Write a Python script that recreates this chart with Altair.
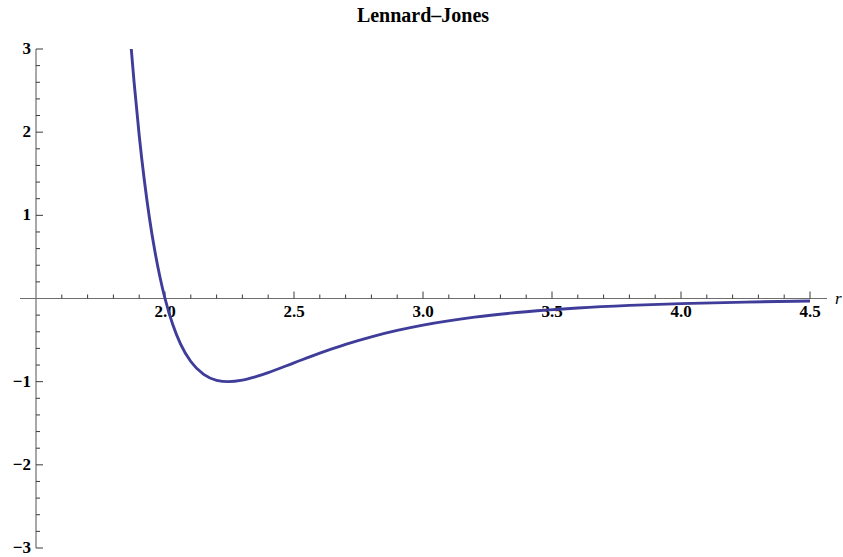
import altair as alt
import pandas as pd

# Curve values (r, V)
r_vals = [1.8693, 1.88, 1.90, 1.92, 1.94, 1.96, 1.98, 2.00, 2.03, 2.06, 2.10, 2.15,
          2.20, 2.245, 2.30, 2.35, 2.40, 2.50, 2.60, 2.70, 2.80, 2.90, 3.00, 3.20,
          3.40, 3.60, 3.80, 4.00, 4.25, 4.50]
v_vals = [3.0, 2.6065, 1.9610, 1.4182, 0.9629, 0.5819, 0.2641, 0.0, -0.3126, -0.5444,
          -0.7575, -0.9124, -0.9834, -1.0, -0.9817, -0.9424, -0.8910, -0.7737, -0.6570,
          -0.5516, -0.4607, -0.3841, -0.3203, -0.2242, -0.1589, -0.1142, -0.0832,
          -0.0615, -0.0430, -0.0306]

x_major = [2.0, 2.5, 3.0, 3.5, 4.0, 4.5]
x_major_labels = ["2.0", "2.5", "3.0", "3.5", "4.0", "4.5"]
x_minor = [1.6, 1.7, 1.8, 1.9, 2.1, 2.2, 2.3, 2.4, 2.6, 2.7, 2.8, 2.9,
           3.1, 3.2, 3.3, 3.4, 3.6, 3.7, 3.8, 3.9, 4.1, 4.2, 4.3, 4.4]
y_major = [-3, -2, -1, 1, 2, 3]
y_major_labels = ["\u22123", "\u22122", "\u22121", "1", "2", "3"]
y_minor = [-2.8, -2.6, -2.4, -2.2, -1.8, -1.6, -1.4, -1.2, -0.8, -0.6, -0.4, -0.2,
           0.2, 0.4, 0.6, 0.8, 1.2, 1.4, 1.6, 1.8, 2.2, 2.4, 2.6, 2.8]
x_range = [1.5, 4.5]
y_range = [-3, 3]
title_text = "Lennard\u2013Jones"
axis_label = "r"

curve_df = pd.DataFrame({"r": r_vals, "V": v_vals})
xmaj_df = pd.DataFrame({"x": x_major, "label": x_major_labels})
xmin_df = pd.DataFrame({"x": x_minor})
ymaj_df = pd.DataFrame({"y": y_major, "label": y_major_labels})
ymin_df = pd.DataFrame({"y": y_minor})
frame_df = pd.DataFrame({"x0": [x_range[0]], "x1": [x_range[1]],
                         "y0": [y_range[0]], "y1": [y_range[1]],
                         "t": [axis_label], "title": [title_text]})

XS = alt.Scale(domain=x_range, nice=False, zero=False)
YS = alt.Scale(domain=y_range, nice=False, zero=False)

AX = "#6e6e6e"
TK = "#3a3a3a"
FONT = "Liberation Serif"

# axis lines
x_axis_line = alt.Chart(frame_df).mark_rule(
    color=AX, strokeWidth=1.2, xOffset=-16, x2Offset=17
).transform_calculate(zero="0").encode(
    x=alt.X("x0:Q", scale=XS, axis=None), x2="x1:Q",
    y=alt.Y("zero:Q", scale=YS, axis=None))

y_axis_line = alt.Chart(frame_df).mark_rule(color=AX, strokeWidth=1.2).encode(
    x=alt.X("x0:Q", scale=XS, axis=None),
    y=alt.Y("y0:Q", scale=YS, axis=None), y2="y1:Q")

# ticks
x_major_ticks = alt.Chart(xmaj_df).mark_rule(color=TK, strokeWidth=1, y2Offset=-7
).transform_calculate(zero="0").encode(
    x=alt.X("x:Q", scale=XS, axis=None), y=alt.Y("zero:Q", scale=YS, axis=None), y2="zero:Q")
x_minor_ticks = alt.Chart(xmin_df).mark_rule(color=TK, strokeWidth=1, y2Offset=-4
).transform_calculate(zero="0").encode(
    x=alt.X("x:Q", scale=XS, axis=None), y=alt.Y("zero:Q", scale=YS, axis=None), y2="zero:Q")
y_major_ticks = alt.Chart(ymaj_df).mark_rule(color=TK, strokeWidth=1, x2Offset=7
).transform_calculate(left="1.5").encode(
    y=alt.Y("y:Q", scale=YS, axis=None), x=alt.X("left:Q", scale=XS, axis=None), x2="left:Q")
y_minor_ticks = alt.Chart(ymin_df).mark_rule(color=TK, strokeWidth=1, x2Offset=4
).transform_calculate(left="1.5").encode(
    y=alt.Y("y:Q", scale=YS, axis=None), x=alt.X("left:Q", scale=XS, axis=None), x2="left:Q")

# tick labels
x_labels = alt.Chart(xmaj_df).mark_text(
    font=FONT, fontSize=17, fontWeight="bold", color="black", baseline="top", dy=5
).transform_calculate(zero="0").encode(
    x=alt.X("x:Q", scale=XS, axis=None), y=alt.Y("zero:Q", scale=YS, axis=None), text="label:N")

y_labels = alt.Chart(ymaj_df).mark_text(
    font=FONT, fontSize=17, fontWeight="bold", color="black", align="right",
    baseline="middle", dx=-5
).transform_calculate(left="1.5").encode(
    y=alt.Y("y:Q", scale=YS, axis=None), x=alt.X("left:Q", scale=XS, axis=None), text="label:N")

r_label = alt.Chart(frame_df).mark_text(
    font=FONT, fontSize=17, fontStyle="italic", color="black", align="left",
    baseline="alphabetic", dx=25, dy=5
).transform_calculate(zero="0").encode(
    x=alt.X("x1:Q", scale=XS, axis=None), y=alt.Y("zero:Q", scale=YS, axis=None), text="t:N")

title = alt.Chart(frame_df).mark_text(
    font=FONT, fontSize=20, fontWeight="bold", color="black", align="center",
    baseline="alphabetic", dy=-27
).transform_calculate(mid="(datum.x0 + datum.x1) / 2").encode(
    x=alt.X("mid:Q", scale=XS, axis=None), y=alt.Y("y1:Q", scale=YS, axis=None), text="title:N")

curve = alt.Chart(curve_df).mark_line(
    color="#3f3d99", strokeWidth=2.9, interpolate="monotone"
).encode(x=alt.X("r:Q", scale=XS, axis=None), y=alt.Y("V:Q", scale=YS, axis=None))

chart = alt.layer(
    x_axis_line, y_axis_line, x_minor_ticks, x_major_ticks, y_minor_ticks, y_major_ticks,
    x_labels, y_labels, r_label, title, curve
).properties(
    width=774, height=499,
    autosize=alt.AutoSizeParams(type="none"),
    padding={"left": 36, "top": 49, "right": 33, "bottom": 9},
).configure(background="white").configure_view(strokeWidth=0, stroke="transparent")

chart.save("out.html", embed_options={"renderer": "svg", "actions": False})
